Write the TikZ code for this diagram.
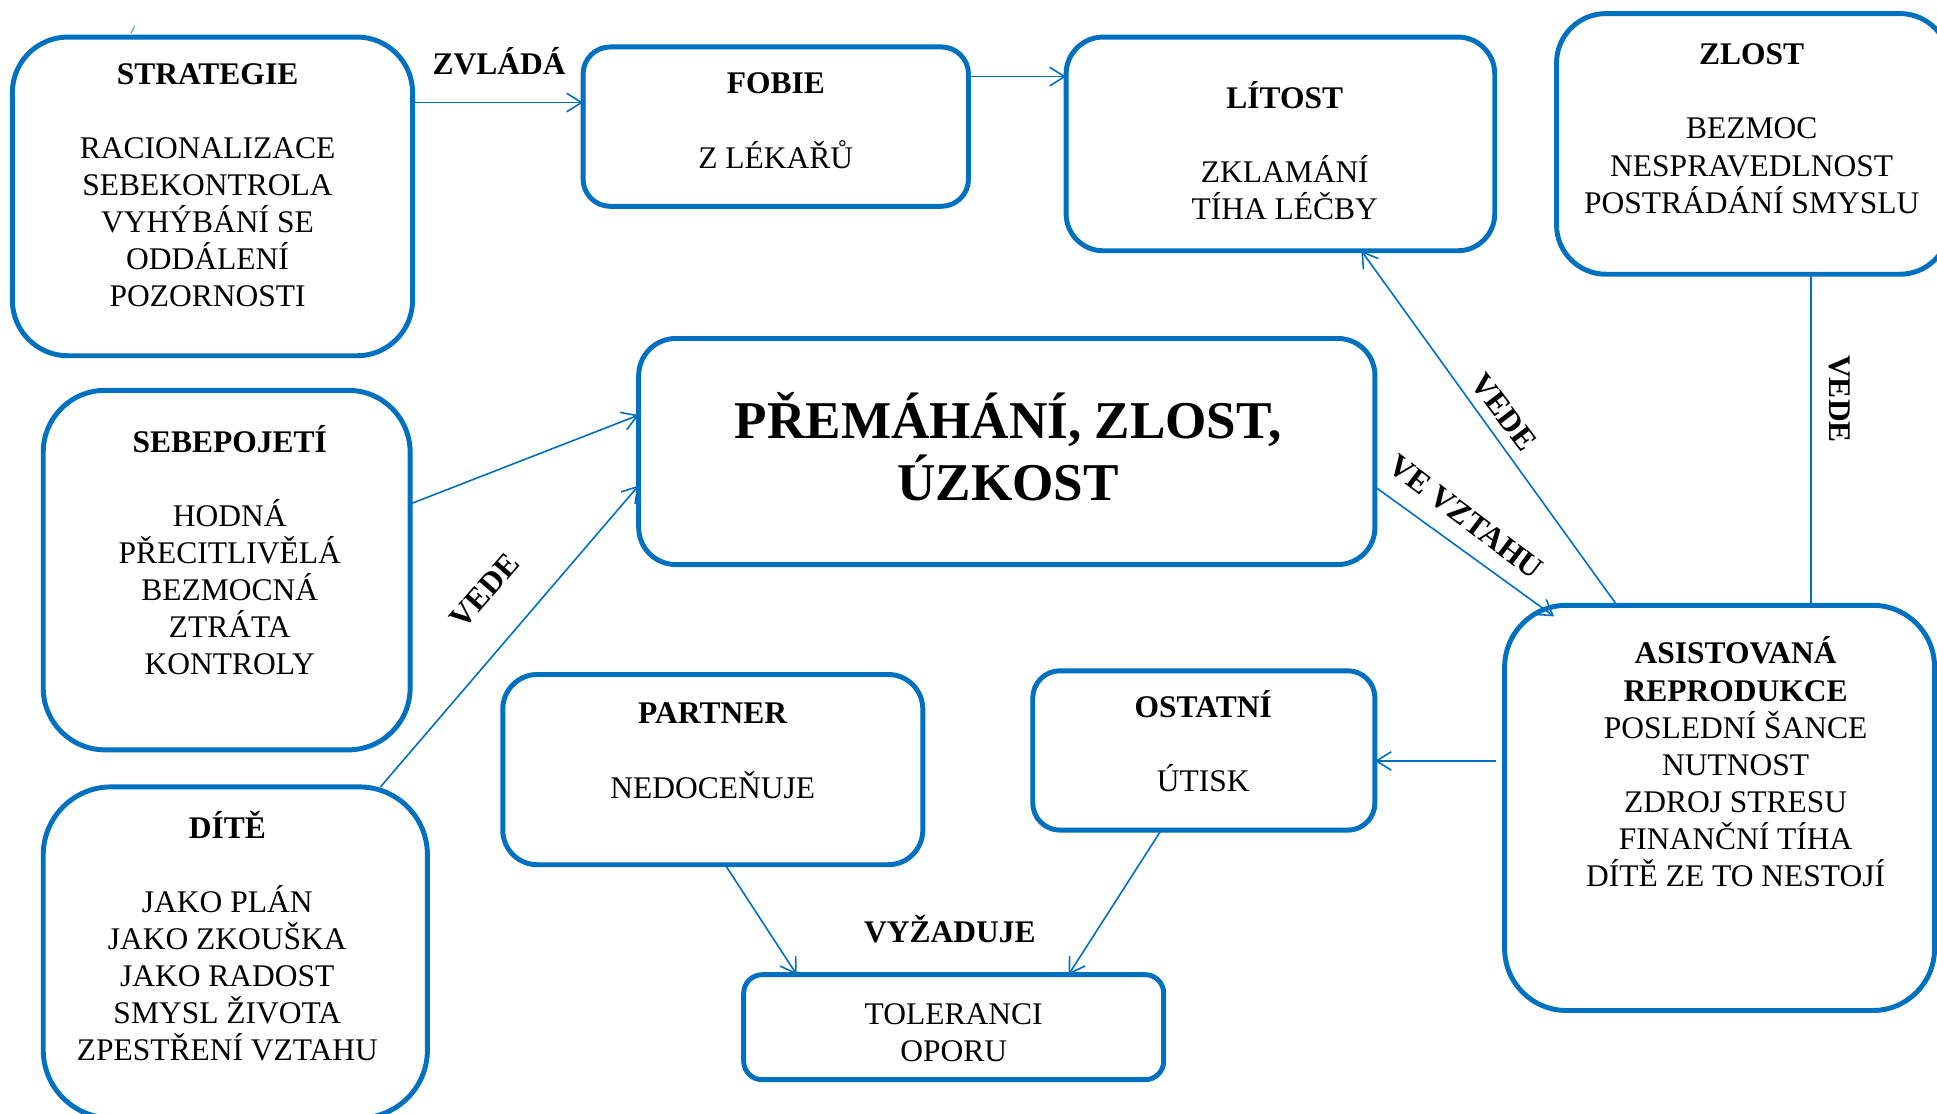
\documentclass[tikz,border=0pt]{standalone}
\usepackage{fontspec}
\setmainfont{Liberation Serif}
\usetikzlibrary{arrows.meta}
\definecolor{wblue}{HTML}{0070C0}
\newcommand\ms{\rule[-6pt]{0pt}{30pt}}
\newcommand\mbig{\rule[-10pt]{0pt}{50pt}}
\begin{document}
\begin{tikzpicture}[x=1pt,y=-1pt,
  box/.style={draw=wblue, line width=4pt, inner sep=0pt, outer sep=0pt, rectangle},
  txt/.style={font=\fontsize{25.5}{30}\selectfont, align=center, inner sep=0pt},
  lbl/.style={font=\fontsize{25.5}{30}\selectfont\bfseries, inner sep=0pt},
  conn/.style={draw=wblue, line width=1.3pt, -{Straight Barb[length=12pt,width=15pt]}},
  plainline/.style={draw=wblue, line width=1.3pt}]
\useasboundingbox[fill=white] (0,0) rectangle (1568,901);

% boxes
\node[box, rounded corners=45pt, minimum width=324pt, minimum height=258pt] (strat) at (172,159) {};
\node[box, rounded corners=22pt, minimum width=312pt, minimum height=129pt] (fobie) at (628,102.5) {};
\node[box, rounded corners=30pt, minimum width=347pt, minimum height=173pt] (lit) at (1036.5,116.5) {};
\node[box, rounded corners=40pt, minimum width=318pt, minimum height=211pt] (zlost) at (1419,116.5) {};
\node[box, rounded corners=50pt, minimum width=297pt, minimum height=291pt] (sebe) at (183.5,461.5) {};
\node[box, rounded corners=30pt, minimum width=596pt, minimum height=183pt] (prem) at (815,365.5) {};
\node[box, rounded corners=50pt, minimum width=348pt, minimum height=328pt] (asist) at (1392,654) {};
\node[box, rounded corners=22pt, minimum width=277pt, minimum height=129pt] (ost) at (974.5,607.5) {};
\node[box, rounded corners=28pt, minimum width=340pt, minimum height=154pt] (partner) at (577,623) {};
\node[box, rounded corners=55pt, minimum width=311pt, minimum height=268pt] (dite) at (190.5,771) {};
\node[box, rounded corners=15pt, minimum width=340pt, minimum height=85pt] (tol) at (772,831.5) {};

% texts
\node[txt] (strat-t) at (168,149.5) {\ms\textbf{STRATEGIE}\\[30pt]RACIONALIZACE\\SEBEKONTROLA\\VYHÝBÁNÍ SE\\ODDÁLENÍ\\POZORNOSTI\ms};
\node[txt] (fobie-t) at (628,97) {\ms\textbf{FOBIE}\\[30pt]Z LÉKAŘŮ\ms};
\node[txt] (lit-t) at (1040,123.5) {\ms\textbf{LÍTOST}\\[30pt]ZKLAMÁNÍ\\TÍHA LÉČBY\ms};
\node[txt] (zlost-t) at (1418,103.5) {\ms\textbf{ZLOST}\\[30pt]BEZMOC\\NESPRAVEDLNOST\\POSTRÁDÁNÍ SMYSLU\ms};
\node[txt] (sebe-t) at (186,447) {\ms\textbf{SEBEPOJETÍ}\\[30pt]HODNÁ\\PŘECITLIVĚLÁ\\BEZMOCNÁ\\ZTRÁTA\\KONTROLY\ms};
\node[font=\fontsize{43}{50}\selectfont\bfseries, align=center, inner sep=0pt] (prem-t) at (816,365) {\mbig PŘEMÁHÁNÍ, ZLOST,\\ÚZKOST\mbig};
\node[txt] (asist-t) at (1405,618.5) {\ms\textbf{ASISTOVANÁ}\\\textbf{REPRODUKCE}\\POSLEDNÍ ŠANCE\\NUTNOST\\ZDROJ STRESU\\FINANČNÍ TÍHA\\DÍTĚ ZE TO NESTOJÍ\ms};
\node[txt] (ost-t) at (974,602) {\ms\textbf{OSTATNÍ}\\[30pt]ÚTISK\ms};
\node[txt] (partner-t) at (577,607) {\ms\textbf{PARTNER}\\[30pt]NEDOCEŇUJE\ms};
\node[txt] (dite-t) at (184,759.5) {\ms\textbf{DÍTĚ}\\[30pt]JAKO PLÁN\\JAKO ZKOUŠKA\\JAKO RADOST\\SMYSL ŽIVOTA\\ZPESTŘENÍ VZTAHU\ms};
\node[txt] (tol-t) at (772,835) {\ms TOLERANCI\\OPORU\ms};

% connectors
\draw[conn] (strat.east |- 0,83) -- (fobie.west |- 0,83);
\draw[conn] (fobie.east |- 0,62) -- (lit.west |- 0,62);
\draw[conn] (sebe.east |- 0,408) -- (prem.west |- 0,336);
\draw[conn] (dite.north -| 308,0) -- (prem.west |- 0,393);
\draw[conn] (prem.east |- 0,394) -- ([xshift=40pt,yshift=-9pt]asist.north west);
\draw[conn] (asist.north -| 1309,0) -- (lit.south -| 1102,0);
\draw[plainline] (zlost.south -| 1466,0) -- (asist.north -| 1466,0);
\draw[conn, shorten <=7pt] (asist.west |- 0,616) -- (ost.east |- 0,616);
\draw[conn] (partner.south -| 587,0) -- (tol.north -| 645,0);
\draw[conn] (ost.south -| 940,0) -- (tol.north -| 865,0);

% small mark above STRATEGIE
\draw[wblue!60, line width=1pt] (106,27) -- (109,21);

% labels
\node[lbl] (l1) at (404,51) {\ms ZVLÁDÁ};
\node[lbl, rotate=49] (l2) at (392,478) {\ms VEDE};
\node[lbl, rotate=-37] (l3) at (1187,418) {\ms VE VZTAHU};
\node[lbl, rotate=-53] (l4) at (1218,333) {\ms VEDE};
\node[lbl, rotate=-90] (l5) at (1490,323) {\ms VEDE};
\node[lbl] (l6) at (769,754) {\ms VYŽADUJE};
\end{tikzpicture}
\end{document}
